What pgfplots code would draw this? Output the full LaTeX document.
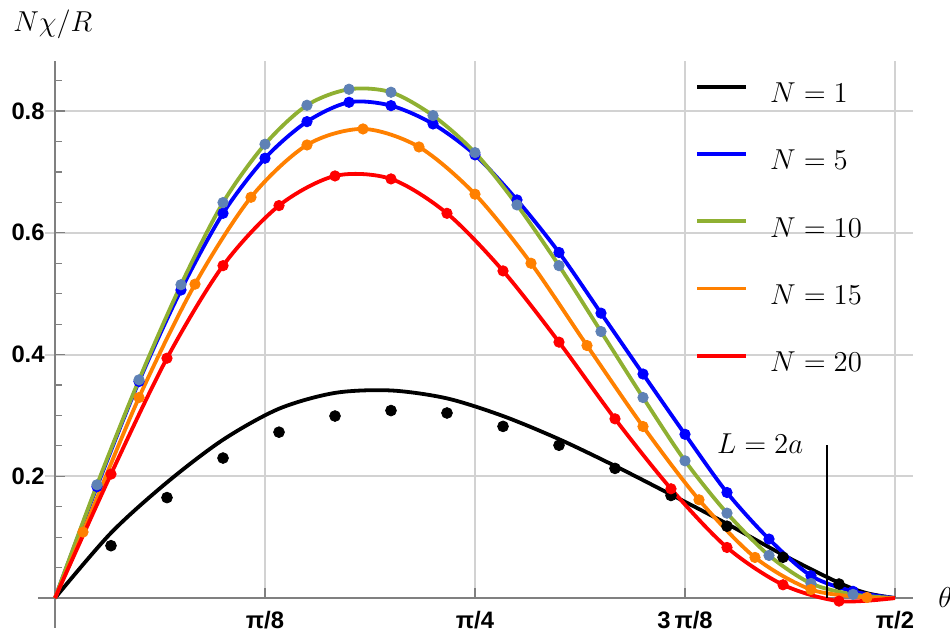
\documentclass[border=0pt]{standalone}
\usepackage[no-math]{fontspec}
\usepackage{pgfplots}
\pgfplotsset{compat=1.18}
\newfontfamily\tickfont{Liberation Sans}
\definecolor{mblue}{RGB}{0,0,255}
\definecolor{mgreen}{RGB}{143,176,50}
\definecolor{msteel}{RGB}{94,129,181}
\definecolor{morange}{RGB}{255,128,0}
\definecolor{mred}{RGB}{255,0,0}
\definecolor{gridgray}{RGB}{210,210,210}
\definecolor{axgray}{RGB}{128,128,128}
\begin{document}
\begin{tikzpicture}
\begin{axis}[
  set layers,
  scale only axis, width=437.5pt, height=283.5pt,
  xmin=-0.03179, xmax=1.60445, ymin=-0.0488, ymax=0.8826,
  axis lines=middle, axis line style={axgray, line width=0.6pt, -},
  clip=false,
  xtick={0.392699,0.785398,1.178097,1.570796},
  xticklabels={π/8, π/4, 3\,π/8, π/2},
  ytick={0.2,0.4,0.6,0.8},
  yticklabels={0.2,0.4,0.6,0.8},
  minor ytick={0.05,0.1,0.15,0.25,0.3,0.35,0.45,0.5,0.55,0.65,0.7,0.75,0.85},
  tick align=inside, major tick length=5pt, minor tick length=3.3pt,
  every tick/.style={axgray, line width=0.6pt},
  xticklabel style={font=\tickfont\bfseries\fontsize{11.9}{14}\selectfont, anchor=north, inner sep=0pt, yshift=-6.3pt},
  yticklabel style={font=\tickfont\bfseries\fontsize{11.9}{14}\selectfont, anchor=east, inner sep=0pt, xshift=-5pt},
  legend style={at={(axis cs:1.1968,0.8470)}, anchor=north west, draw=none, fill=none,
    inner sep=0pt, row sep=23.8pt, column sep=11pt,
    nodes={inner sep=0pt, text depth=0pt},
    cells={anchor=west},
    font=\fontsize{14.4}{17}\selectfont},
  legend image code/.code={\draw[#1] (0pt,3pt) -- (24.5pt,3pt);},
]
\begin{pgfonlayer}{axis grid}
\draw[gridgray, line width=1pt] (axis cs:0.392699,0) -- (axis cs:0.392699,0.8826);
\draw[gridgray, line width=1pt] (axis cs:0.785398,0) -- (axis cs:0.785398,0.8826);
\draw[gridgray, line width=1pt] (axis cs:1.178097,0) -- (axis cs:1.178097,0.8826);
\draw[gridgray, line width=1pt] (axis cs:1.570796,0) -- (axis cs:1.570796,0.8826);
\draw[gridgray, line width=1pt] (axis cs:-0.0187,0.2) -- (axis cs:1.60445,0.2);
\draw[gridgray, line width=1pt] (axis cs:-0.0187,0.4) -- (axis cs:1.60445,0.4);
\draw[gridgray, line width=1pt] (axis cs:-0.0187,0.6) -- (axis cs:1.60445,0.6);
\draw[gridgray, line width=1pt] (axis cs:-0.0187,0.8) -- (axis cs:1.60445,0.8);
\end{pgfonlayer}
\path (axis cs:-0.10285,-0.06683) rectangle (axis cs:1.67364,0.98243);

% lines
\addplot[black, line width=1.9pt, smooth, no marks] coordinates {
(0,0) (0.1047,0.107) (0.2094,0.190) (0.3142,0.260) (0.4189,0.311) (0.5236,0.337)
(0.6283,0.341) (0.7330,0.328) (0.8378,0.299) (0.9425,0.261) (1.0472,0.217)
(1.1519,0.170) (1.2566,0.122) (1.3614,0.071) (1.4661,0.025) (1.5184,0.008) (1.5708,0)};
\addlegendentry{$N=1$}
\addplot[mblue, line width=1.9pt, smooth, no marks] coordinates {
(0,0) (0.0785,0.183) (0.1571,0.3557) (0.2356,0.506) (0.3142,0.632) (0.3927,0.7225)
(0.4712,0.7826) (0.5498,0.8144) (0.6283,0.8089) (0.7069,0.7788) (0.7854,0.728)
(0.8639,0.654) (0.9425,0.5677) (1.0210,0.468) (1.0996,0.368) (1.1781,0.269)
(1.2566,0.1734) (1.3352,0.0969) (1.4137,0.0366) (1.4923,0.011) (1.5708,0)};
\addlegendentry{$N=5$}
\addplot[mgreen, line width=1.9pt, smooth, no marks] coordinates {
(0,0) (0.0785,0.186) (0.1571,0.3584) (0.2356,0.5147) (0.3142,0.6496) (0.3927,0.7455)
(0.4712,0.8095) (0.5498,0.8358) (0.6283,0.8309) (0.7069,0.7925) (0.7854,0.7317)
(0.8639,0.6458) (0.9425,0.546) (1.0210,0.4378) (1.0996,0.3294) (1.1781,0.2254)
(1.2566,0.1395) (1.3352,0.070) (1.4137,0.024) (1.4923,0.006) (1.5708,0)};
\addlegendentry{$N=10$}
\addplot[morange, line width=1.9pt, smooth, no marks] coordinates {
(0,0) (0.05236,0.1084) (0.15708,0.3294) (0.26180,0.5156) (0.36652,0.6584) (0.47124,0.7443)
(0.57596,0.7706) (0.68068,0.741) (0.78540,0.6634) (0.89012,0.550) (0.99484,0.4148)
(1.09956,0.2818) (1.20428,0.1614) (1.30900,0.0667) (1.41372,0.0140) (1.51844,0.001) (1.5708,0)};
\addlegendentry{$N=15$}
\addplot[mred, line width=1.9pt, smooth, no marks] coordinates {
(0,0) (0.1047,0.2036) (0.2094,0.394) (0.3142,0.546) (0.4189,0.6447) (0.5236,0.6934)
(0.6283,0.6885) (0.7330,0.632) (0.8378,0.5374) (0.9425,0.4204) (1.0472,0.2944)
(1.1519,0.1795) (1.2566,0.0831) (1.3614,0.0218) (1.4661,-0.005) (1.5708,0)};
\addlegendentry{$N=20$}

% dots
\addplot[only marks, mark=*, mark size=2.7pt, black, forget plot] coordinates {
(0.1047,0.086) (0.2094,0.165) (0.3142,0.230) (0.4189,0.2725) (0.5236,0.299) (0.6283,0.308)
(0.7330,0.304) (0.8378,0.282) (0.9425,0.251) (1.0472,0.213) (1.1519,0.1685) (1.2566,0.118)
(1.3614,0.067) (1.4661,0.023)};
\addplot[only marks, mark=*, mark size=2.6pt, mblue, forget plot] coordinates {
(0.0785,0.183) (0.1571,0.3557) (0.2356,0.506) (0.3142,0.632) (0.3927,0.7225)
(0.4712,0.7826) (0.5498,0.8144) (0.6283,0.8089) (0.7069,0.7788) (0.7854,0.728)
(0.8639,0.654) (0.9425,0.5677) (1.0210,0.468) (1.0996,0.368) (1.1781,0.269)
(1.2566,0.1734) (1.3352,0.0969) (1.4137,0.0366) (1.4923,0.011)};
\addplot[only marks, mark=*, mark size=2.6pt, msteel, forget plot] coordinates {
(0.0785,0.186) (0.1571,0.3584) (0.2356,0.5147) (0.3142,0.6496) (0.3927,0.7455)
(0.4712,0.8095) (0.5498,0.8358) (0.6283,0.8309) (0.7069,0.7925) (0.7854,0.7317)
(0.8639,0.6458) (0.9425,0.546) (1.0210,0.4378) (1.0996,0.3294) (1.1781,0.2254)
(1.2566,0.1395) (1.3352,0.070) (1.4137,0.024) (1.4923,0.006)};
\addplot[only marks, mark=*, mark size=2.6pt, morange, forget plot] coordinates {
(0.05236,0.1084) (0.15708,0.3294) (0.26180,0.5156) (0.36652,0.6584) (0.47124,0.7443)
(0.57596,0.7706) (0.68068,0.741) (0.78540,0.6634) (0.89012,0.550) (0.99484,0.4148)
(1.09956,0.2818) (1.20428,0.1614) (1.30900,0.0667) (1.41372,0.0140) (1.51844,0.001)};
\addplot[only marks, mark=*, mark size=2.6pt, mred, forget plot] coordinates {
(0.1047,0.2036) (0.2094,0.394) (0.3142,0.546) (0.4189,0.6447) (0.5236,0.6934)
(0.6283,0.6885) (0.7330,0.632) (0.8378,0.5374) (0.9425,0.4204) (1.0472,0.2944)
(1.1519,0.1795) (1.2566,0.0831) (1.3614,0.0218) (1.4661,-0.005)};

% L = 2a marker line
\addplot[black, line width=1pt, no marks, forget plot] coordinates {(1.443,0) (1.443,0.2506)};
\node[anchor=base west, inner sep=0pt, font=\fontsize{14.4}{17}\selectfont] at (axis cs:1.2374,0.2369) {$L=2a$};
\node[anchor=base west, inner sep=0pt, font=\fontsize{14.4}{17}\selectfont] at (axis cs:-0.0785,0.9304) {$N\chi/R$};
\node[anchor=base west, inner sep=0pt, overlay, font=\fontsize{14.4}{17}\selectfont] at (axis cs:1.6512,-0.0159) {$\theta$};
\end{axis}
\end{tikzpicture}
\end{document}
